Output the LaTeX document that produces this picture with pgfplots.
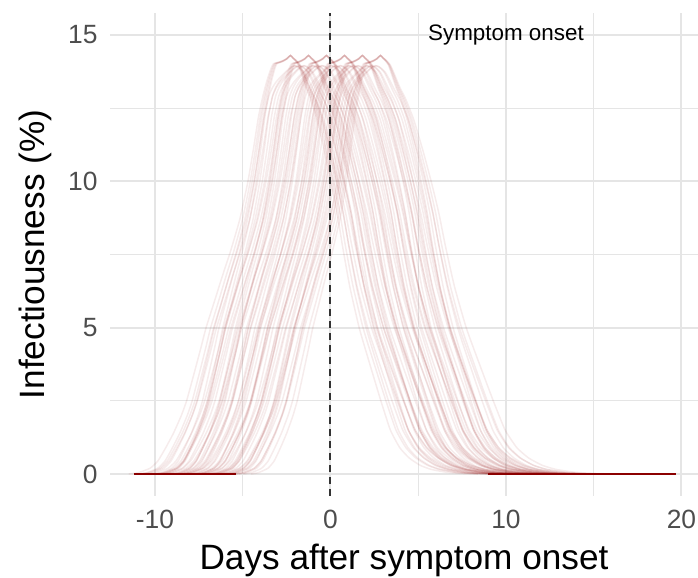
\documentclass[border=0pt]{standalone}
\usepackage{fontspec}
\setmainfont{Liberation Sans}
\usepackage{pgfplots}
\usepackage{pgfplotstable}
\pgfplotsset{compat=1.18}
\definecolor{darkred}{RGB}{139,0,0}
\definecolor{gridgray}{RGB}{229,229,229}
\definecolor{tickgray}{RGB}{77,77,77}

% Infectiousness profile (days relative to the curve's own peak, %)
\pgfplotstableread{
d y
-8.3 0
-7.8 0.05
-7.2 0.2
-6.8 0.45
-6.4 0.9
-6.0 1.4
-5.6 2.0
-5.33 2.5
-5.0 3.3
-4.6 4.3
-4.33 5.0
-3.9 5.9
-3.5 6.75
-3.08 7.6
-2.6 8.7
-2.18 10.0
-1.9 11.1
-1.64 12.2
-1.4 12.95
-1.2 13.45
-1.0 13.85
-0.87 14.02
-0.6 14.07
-0.4 14.12
-0.2 14.19
0 14.3
0.15 14.21
0.3 14.13
0.5 13.98
0.69 13.7
1.0 13.2
1.3 12.8
1.71 12.1
2.2 11.0
2.64 9.9
3.0 8.9
3.33 7.8
3.8 6.4
4.4 5.0
5.0 3.9
5.79 2.5
6.4 1.5
7.0 0.9
7.6 0.55
8.3 0.3
9.0 0.16
10.0 0.06
11.0 0.02
12.0 0
}\base
% profiles peaking between the scallops (slightly lower, rounder top)
\pgfplotstableread{
d y
-8.3 0
-7.8 0.05
-7.2 0.2
-6.8 0.45
-6.4 0.9
-6.0 1.4
-5.6 2.0
-5.33 2.5
-5.0 3.3
-4.6 4.3
-4.33 5.0
-3.9 5.9
-3.5 6.75
-3.08 7.6
-2.6 8.7
-2.18 10.0
-1.9 11.1
-1.64 12.2
-1.4 12.9
-1.2 13.2
-1.0 13.4
-0.8 13.55
-0.6 13.68
-0.4 13.8
-0.2 13.9
0 13.95
0.15 13.92
0.3 13.85
0.5 13.72
0.69 13.5
1.0 13.1
1.3 12.75
1.71 12.1
2.2 11.0
2.64 9.9
3.0 8.9
3.33 7.8
3.8 6.4
4.4 5.0
5.0 3.9
5.79 2.5
6.4 1.5
7.0 0.9
7.6 0.55
8.3 0.3
9.0 0.16
10.0 0.06
11.0 0.02
12.0 0
}\basemid

\tikzset{infline/.style={draw=darkred, draw opacity=0.075, line width=0.75pt, smooth, tension=0.3}}
% #1 = peak day relative to symptom onset, #2 = width factor
\newcommand\curve[2]{\addplot[infline] table[x expr={#1+#2*\thisrow{d}}, y=y]{\base};}
\newcommand\curvemid[2]{\addplot[infline] table[x expr={#1+#2*\thisrow{d}}, y=y]{\basemid};}

\begin{document}
\begin{tikzpicture}
\begin{axis}[
  at={(0,0)}, anchor=south west,
  scale only axis, width=294pt, height=241.5pt,
  xmin=-12.56, xmax=20.94, ymin=-0.75, ymax=15.75,
  xtick={-10,0,10,20}, ytick={0,5,10,15},
  minor xtick={-5,5,15}, minor ytick={2.5,7.5,12.5},
  grid=both,
  major grid style={draw=gridgray, line width=1pt},
  minor grid style={draw=gridgray, line width=0.6pt},
  axis line style={draw=none},
  major tick length=0pt, minor tick length=0pt,
  tick style={draw=none},
  /pgf/number format/assume math mode=true,
  xticklabel style={font=\fontsize{13.2}{15}\selectfont, text=tickgray, anchor=base, inner sep=0pt, yshift=-16.5pt},
  yticklabel style={font=\fontsize{13.2}{15}\selectfont, text=tickgray, anchor=east, inner sep=0pt, xshift=-6pt},
  xlabel={Days after symptom onset},
  ylabel={Infectiousness (\%)},
  xlabel style={font=\fontsize{17.6}{20}\selectfont, anchor=base, at={(axis description cs:0.5,0)}, yshift=-37pt},
  ylabel style={font=\fontsize{17.6}{20}\selectfont, anchor=center, at={(axis description cs:-0.1276,0.5)}},
  clip=true,
]
% peaks on the scallops
\curve{-2.28}{0.89}\curve{-2.28}{0.94}\curve{-2.28}{1.00}\curve{-2.28}{1.05}\curve{-2.28}{1.11}
\curve{-1.25}{0.89}\curve{-1.25}{0.94}\curve{-1.25}{1.00}\curve{-1.25}{1.05}\curve{-1.25}{1.11}
\curve{-0.23}{0.89}\curve{-0.23}{0.94}\curve{-0.23}{1.00}\curve{-0.23}{1.05}\curve{-0.23}{1.11}
\curve{0.80}{0.89}\curve{0.80}{0.94}\curve{0.80}{1.00}\curve{0.80}{1.05}\curve{0.80}{1.11}
\curve{1.82}{0.89}\curve{1.82}{0.94}\curve{1.82}{1.00}\curve{1.82}{1.05}\curve{1.82}{1.11}
\curve{2.85}{0.89}\curve{2.85}{0.94}\curve{2.85}{1.00}\curve{2.85}{1.05}\curve{2.85}{1.11}
% peaks between the scallops
\curvemid{-2.02}{0.92}\curvemid{-2.02}{1.07}\curvemid{-1.77}{0.97}\curvemid{-1.77}{1.09}\curvemid{-1.51}{0.90}\curvemid{-1.51}{1.03}
\curvemid{-0.99}{0.95}\curvemid{-0.99}{1.08}\curvemid{-0.74}{0.91}\curvemid{-0.74}{1.02}\curvemid{-0.48}{0.97}\curvemid{-0.48}{1.10}
\curvemid{0.06}{0.93}\curvemid{0.06}{1.06}\curvemid{0.31}{0.90}\curvemid{0.31}{1.01}\curvemid{0.57}{0.96}\curvemid{0.57}{1.09}
\curvemid{1.06}{0.92}\curvemid{1.06}{1.04}\curvemid{1.31}{0.98}\curvemid{1.31}{1.10}\curvemid{1.57}{0.90}\curvemid{1.57}{1.03}
\curvemid{2.08}{0.95}\curvemid{2.08}{1.07}\curvemid{2.34}{0.91}\curvemid{2.34}{1.02}\curvemid{2.59}{0.96}\curvemid{2.59}{1.08}
% curves resting at zero outside their support
\addplot[draw=darkred, line width=1.3pt] coordinates {(-11.2,0) (-5.4,0)};
\addplot[draw=darkred, line width=1.3pt] coordinates {(9.0,0) (19.7,0)};
\addplot[draw=black!80, line width=1pt, dash pattern=on 3.7pt off 2.3pt] coordinates {(0,-0.75) (0,15.75)};
\node[font=\fontsize{11.2}{13}\selectfont, anchor=center] at (axis cs:10,15) {Symptom onset};
\end{axis}
\pgfresetboundingbox
\path[use as bounding box] ([xshift=-55pt,yshift=-41pt]current axis.south west) rectangle ([yshift=6.5pt]current axis.north east);
\end{tikzpicture}
\end{document}
